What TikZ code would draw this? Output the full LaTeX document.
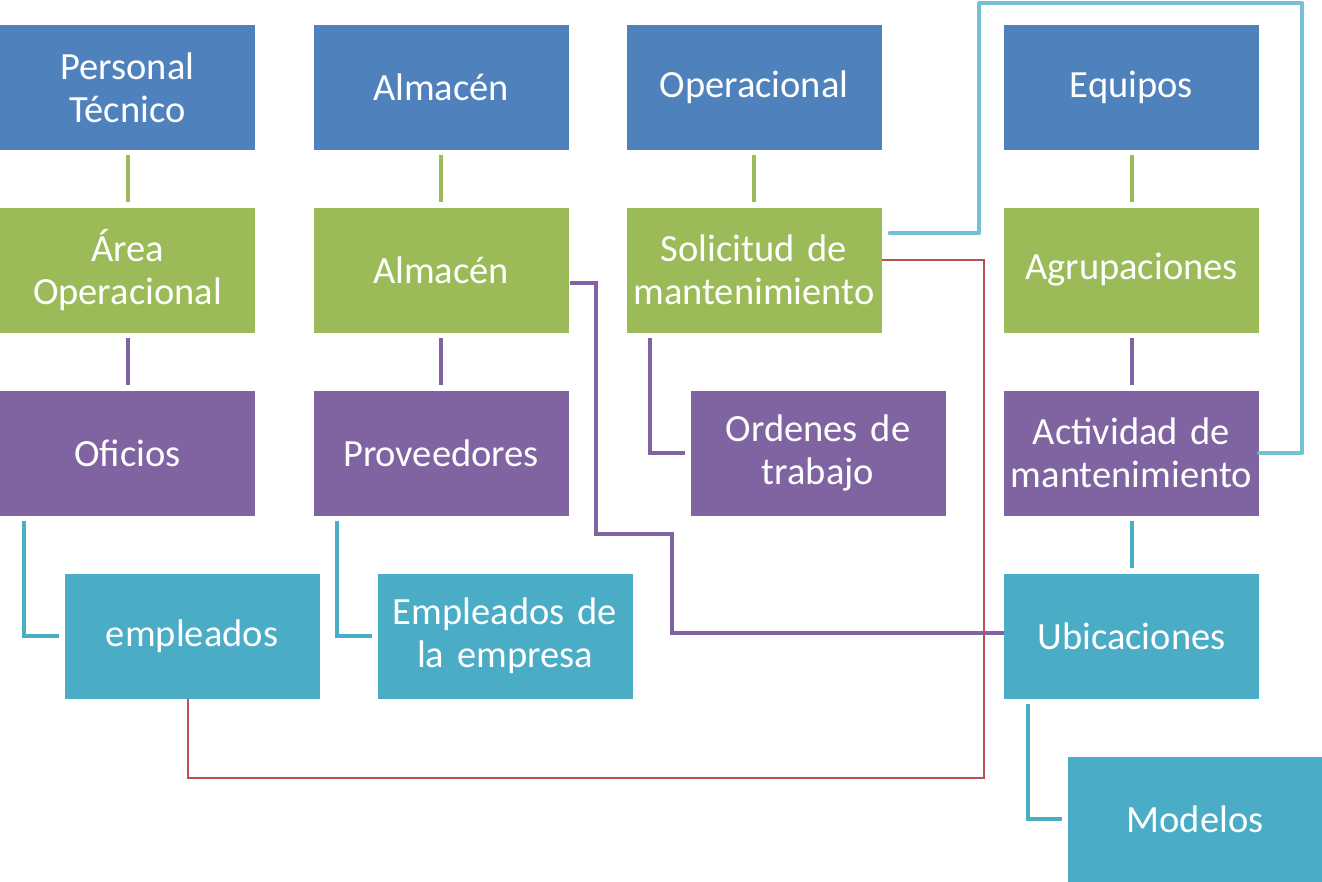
\documentclass[tikz,border=0pt]{standalone}
\usepackage{fontspec}
\setmainfont{Carlito}
\definecolor{cblue}{RGB}{79,129,189}
\definecolor{cgreen}{RGB}{155,187,89}
\definecolor{cpurple}{RGB}{128,100,162}
\definecolor{cteal}{RGB}{75,172,198}
\definecolor{clight}{RGB}{117,192,212}
\definecolor{cred}{RGB}{192,80,77}
\tikzset{
  box/.style={rectangle, minimum width=255pt, minimum height=125pt, inner sep=0pt,
    text=white, align=center, text width=252pt, font=\fontsize{38.5}{43}\selectfont},
  bluebox/.style={box, fill=cblue},
  greenbox/.style={box, fill=cgreen},
  purplebox/.style={box, fill=cpurple},
  tealbox/.style={box, fill=cteal},
  gline/.style={draw=cgreen, line width=4pt},
  pline/.style={draw=cpurple, line width=4pt},
  tline/.style={draw=cteal, line width=4pt},
  lline/.style={draw=clight, line width=4pt, line join=round, line cap=round},
  rline/.style={draw=cred, line width=1.2pt},
}
\begin{document}
\begin{tikzpicture}[x=1pt,y=-1pt]
\useasboundingbox (0,0) rectangle (1322,881);
% row 1
\node[bluebox] (pt) at (127.5,87.5) {Personal\\Técnico};
\node[bluebox] (alm1) at (441,87.5) {Almacén};
\node[bluebox] (ope) at (754,87.5) {Operacional};
\node[bluebox] (equ) at (1131.5,87.5) {Equipos};
% row 2
\node[greenbox] (area) at (127.5,270) {Área\\Operacional};
\node[greenbox] (alm2) at (441,270) {Almacén};
\node[greenbox] (sol) at (754,270) {Solicitud de\\mantenimiento};
\node[greenbox] (agr) at (1131.5,270) {Agrupaciones};
% row 3
\node[purplebox] (ofi) at (127.5,453) {Oficios};
\node[purplebox] (pro) at (441,453) {Proveedores};
\node[purplebox] (ord) at (818,453) {Ordenes de\\trabajo};
\node[purplebox] (act) at (1131.5,453) {Actividad de\\mantenimiento};
% row 4
\node[tealbox] (emp) at (192,636) {empleados};
\node[tealbox] (epe) at (505,636) {Empleados de\\la empresa};
\node[tealbox] (ubi) at (1131.5,636) {Ubicaciones};
% row 5
\node[tealbox] (mod) at (1195,819) {Modelos};
% green connectors
\draw[gline] ([yshift=-5pt]pt.south) -- ([yshift=5pt]area.north);
\draw[gline] ([yshift=-5pt]alm1.south) -- ([yshift=5pt]alm2.north);
\draw[gline] ([yshift=-5pt]ope.south) -- ([yshift=5pt]sol.north);
\draw[gline] ([yshift=-5pt]equ.south) -- ([yshift=5pt]agr.north);
% purple connectors
\draw[pline] ([yshift=-5pt]area.south) -- ([yshift=5pt]ofi.north);
\draw[pline] ([yshift=-5pt]alm2.south) -- ([yshift=5pt]pro.north);
\draw[pline] ([yshift=-5pt]agr.south) -- ([yshift=5pt]act.north);
\draw[pline] ([xshift=24pt,yshift=-5pt]sol.south west) |- ([xshift=-5pt]ord.west);
\draw[pline] ([xshift=1pt,yshift=-13pt]alm2.east) -- ++(26,0) |- (672,534) |- ([yshift=3pt]ubi.west);
% teal connectors
\draw[tline] ([xshift=24pt,yshift=-5pt]ofi.south west) |- ([xshift=-5pt]emp.west);
\draw[tline] ([xshift=24pt,yshift=-5pt]pro.south west) |- ([xshift=-5pt]epe.west);
\draw[tline] ([yshift=-5pt]act.south) -- ([yshift=5pt]ubi.north);
\draw[tline] ([xshift=24pt,yshift=-5pt]ubi.south west) |- ([xshift=-5pt]mod.west);
% light blue
\coordinate (tr) at (1302,3);
\draw[lline] ([xshift=8pt,yshift=37pt]sol.east) -- ++(89,0) |- (tr) |- (act.east);
% red
\draw[rline] ([yshift=10pt]sol.east) -| (984,778) -| ([xshift=-4pt]emp.south);
\end{tikzpicture}
\end{document}
